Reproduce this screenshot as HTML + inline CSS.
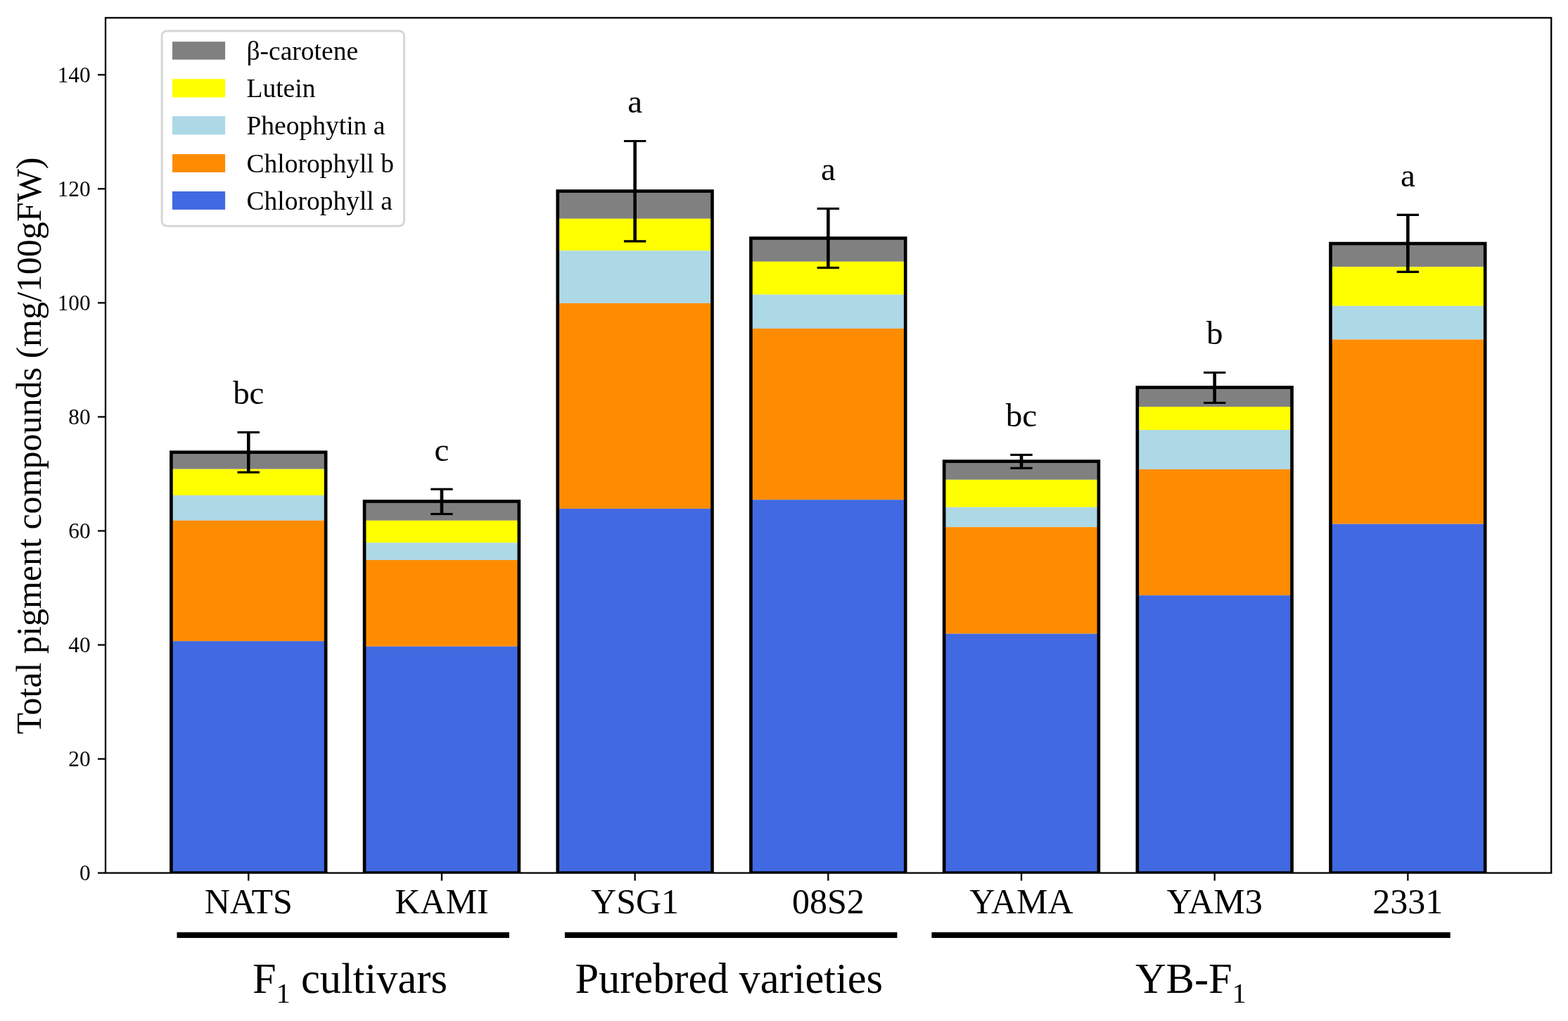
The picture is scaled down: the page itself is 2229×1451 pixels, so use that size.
<!DOCTYPE html>
<html><head><meta charset="utf-8"><title>Total pigment compounds</title>
<style>
html,body{margin:0;padding:0;background:#fff;}
svg{display:block;}
text{font-family:"Liberation Serif","Times New Roman",serif;fill:#000;}
</style></head><body>
<svg width="2229" height="1451" viewBox="0 0 2229 1451">
<rect x="0" y="0" width="2229" height="1451" fill="#fff"/>
<defs><clipPath id="ax"><rect x="150" y="25.3" width="2055.2" height="1215.3"/></clipPath></defs>
<g clip-path="url(#ax)">
<rect x="243.39" y="642.7" width="219.74" height="24" fill="#808080"/>
<rect x="243.39" y="666.7" width="219.74" height="37.2" fill="#ffff00"/>
<rect x="243.39" y="703.9" width="219.74" height="35.8" fill="#add8e6"/>
<rect x="243.39" y="739.7" width="219.74" height="171.45" fill="#ff8c00"/>
<rect x="243.39" y="911.15" width="219.74" height="329.45" fill="#4169e1"/>
<rect x="243.39" y="642.7" width="219.74" height="597.9" fill="none" stroke="#000" stroke-width="4.65"/>
<rect x="518.07" y="712.5" width="219.74" height="27.3" fill="#808080"/>
<rect x="518.07" y="739.8" width="219.74" height="31.6" fill="#ffff00"/>
<rect x="518.07" y="771.4" width="219.74" height="24.5" fill="#add8e6"/>
<rect x="518.07" y="795.9" width="219.74" height="122.85" fill="#ff8c00"/>
<rect x="518.07" y="918.75" width="219.74" height="321.85" fill="#4169e1"/>
<rect x="518.07" y="712.5" width="219.74" height="528.1" fill="none" stroke="#000" stroke-width="4.65"/>
<rect x="792.75" y="271.6" width="219.74" height="39.2" fill="#808080"/>
<rect x="792.75" y="310.8" width="219.74" height="45.5" fill="#ffff00"/>
<rect x="792.75" y="356.3" width="219.74" height="74.6" fill="#add8e6"/>
<rect x="792.75" y="430.9" width="219.74" height="292" fill="#ff8c00"/>
<rect x="792.75" y="722.9" width="219.74" height="517.7" fill="#4169e1"/>
<rect x="792.75" y="271.6" width="219.74" height="969" fill="none" stroke="#000" stroke-width="4.65"/>
<rect x="1067.43" y="338.5" width="219.74" height="33.3" fill="#808080"/>
<rect x="1067.43" y="371.8" width="219.74" height="46.9" fill="#ffff00"/>
<rect x="1067.43" y="418.7" width="219.74" height="48.2" fill="#add8e6"/>
<rect x="1067.43" y="466.9" width="219.74" height="243.4" fill="#ff8c00"/>
<rect x="1067.43" y="710.3" width="219.74" height="530.3" fill="#4169e1"/>
<rect x="1067.43" y="338.5" width="219.74" height="902.1" fill="none" stroke="#000" stroke-width="4.65"/>
<rect x="1342.11" y="655.6" width="219.74" height="26.2" fill="#808080"/>
<rect x="1342.11" y="681.8" width="219.74" height="39" fill="#ffff00"/>
<rect x="1342.11" y="720.8" width="219.74" height="28.3" fill="#add8e6"/>
<rect x="1342.11" y="749.1" width="219.74" height="151.6" fill="#ff8c00"/>
<rect x="1342.11" y="900.7" width="219.74" height="339.9" fill="#4169e1"/>
<rect x="1342.11" y="655.6" width="219.74" height="585" fill="none" stroke="#000" stroke-width="4.65"/>
<rect x="1616.79" y="550.6" width="219.74" height="27.4" fill="#808080"/>
<rect x="1616.79" y="578" width="219.74" height="33.1" fill="#ffff00"/>
<rect x="1616.79" y="611.1" width="219.74" height="55.8" fill="#add8e6"/>
<rect x="1616.79" y="666.9" width="219.74" height="179.25" fill="#ff8c00"/>
<rect x="1616.79" y="846.15" width="219.74" height="394.45" fill="#4169e1"/>
<rect x="1616.79" y="550.6" width="219.74" height="690" fill="none" stroke="#000" stroke-width="4.65"/>
<rect x="1891.47" y="346.1" width="219.74" height="33.2" fill="#808080"/>
<rect x="1891.47" y="379.3" width="219.74" height="55.5" fill="#ffff00"/>
<rect x="1891.47" y="434.8" width="219.74" height="47.7" fill="#add8e6"/>
<rect x="1891.47" y="482.5" width="219.74" height="262.2" fill="#ff8c00"/>
<rect x="1891.47" y="744.7" width="219.74" height="495.9" fill="#4169e1"/>
<rect x="1891.47" y="346.1" width="219.74" height="894.5" fill="none" stroke="#000" stroke-width="4.65"/>
</g>
<line x1="353.26" y1="614.4" x2="353.26" y2="671.2" stroke="#000" stroke-width="4.6"/>
<line x1="337.56" y1="614.4" x2="368.96" y2="614.4" stroke="#000" stroke-width="3.1"/>
<line x1="337.56" y1="671.2" x2="368.96" y2="671.2" stroke="#000" stroke-width="3.1"/>
<line x1="627.94" y1="695.2" x2="627.94" y2="730.5" stroke="#000" stroke-width="4.6"/>
<line x1="612.24" y1="695.2" x2="643.64" y2="695.2" stroke="#000" stroke-width="3.1"/>
<line x1="612.24" y1="730.5" x2="643.64" y2="730.5" stroke="#000" stroke-width="3.1"/>
<line x1="902.62" y1="200.5" x2="902.62" y2="342.9" stroke="#000" stroke-width="4.6"/>
<line x1="886.92" y1="200.5" x2="918.32" y2="200.5" stroke="#000" stroke-width="3.1"/>
<line x1="886.92" y1="342.9" x2="918.32" y2="342.9" stroke="#000" stroke-width="3.1"/>
<line x1="1177.3" y1="296.5" x2="1177.3" y2="380.5" stroke="#000" stroke-width="4.6"/>
<line x1="1161.6" y1="296.5" x2="1193" y2="296.5" stroke="#000" stroke-width="3.1"/>
<line x1="1161.6" y1="380.5" x2="1193" y2="380.5" stroke="#000" stroke-width="3.1"/>
<line x1="1451.98" y1="646.4" x2="1451.98" y2="665.3" stroke="#000" stroke-width="4.6"/>
<line x1="1436.28" y1="646.4" x2="1467.68" y2="646.4" stroke="#000" stroke-width="3.1"/>
<line x1="1436.28" y1="665.3" x2="1467.68" y2="665.3" stroke="#000" stroke-width="3.1"/>
<line x1="1726.66" y1="529.5" x2="1726.66" y2="572.5" stroke="#000" stroke-width="4.6"/>
<line x1="1710.96" y1="529.5" x2="1742.36" y2="529.5" stroke="#000" stroke-width="3.1"/>
<line x1="1710.96" y1="572.5" x2="1742.36" y2="572.5" stroke="#000" stroke-width="3.1"/>
<line x1="2001.34" y1="305.4" x2="2001.34" y2="386.4" stroke="#000" stroke-width="4.6"/>
<line x1="1985.64" y1="305.4" x2="2017.04" y2="305.4" stroke="#000" stroke-width="3.1"/>
<line x1="1985.64" y1="386.4" x2="2017.04" y2="386.4" stroke="#000" stroke-width="3.1"/>
<text x="353.26" y="574" font-size="46.9" text-anchor="middle">bc</text>
<text x="627.94" y="654.8" font-size="46.9" text-anchor="middle">c</text>
<text x="902.62" y="160.1" font-size="46.9" text-anchor="middle">a</text>
<text x="1177.3" y="256.1" font-size="46.9" text-anchor="middle">a</text>
<text x="1451.98" y="606" font-size="46.9" text-anchor="middle">bc</text>
<text x="1726.66" y="489.1" font-size="46.9" text-anchor="middle">b</text>
<text x="2001.34" y="265" font-size="46.9" text-anchor="middle">a</text>
<rect x="150" y="25.3" width="2055.2" height="1215.3" fill="none" stroke="#000" stroke-width="2.3"/>
<line x1="139" y1="1240.6" x2="150" y2="1240.6" stroke="#000" stroke-width="2.3"/>
<text x="128.5" y="1251" font-size="31.25" text-anchor="end">0</text>
<line x1="139" y1="1078.56" x2="150" y2="1078.56" stroke="#000" stroke-width="2.3"/>
<text x="128.5" y="1088.96" font-size="31.25" text-anchor="end">20</text>
<line x1="139" y1="916.52" x2="150" y2="916.52" stroke="#000" stroke-width="2.3"/>
<text x="128.5" y="926.92" font-size="31.25" text-anchor="end">40</text>
<line x1="139" y1="754.48" x2="150" y2="754.48" stroke="#000" stroke-width="2.3"/>
<text x="128.5" y="764.88" font-size="31.25" text-anchor="end">60</text>
<line x1="139" y1="592.44" x2="150" y2="592.44" stroke="#000" stroke-width="2.3"/>
<text x="128.5" y="602.84" font-size="31.25" text-anchor="end">80</text>
<line x1="139" y1="430.4" x2="150" y2="430.4" stroke="#000" stroke-width="2.3"/>
<text x="128.5" y="440.8" font-size="31.25" text-anchor="end">100</text>
<line x1="139" y1="268.36" x2="150" y2="268.36" stroke="#000" stroke-width="2.3"/>
<text x="128.5" y="278.76" font-size="31.25" text-anchor="end">120</text>
<line x1="139" y1="106.32" x2="150" y2="106.32" stroke="#000" stroke-width="2.3"/>
<text x="128.5" y="116.72" font-size="31.25" text-anchor="end">140</text>
<line x1="353.26" y1="1240.6" x2="353.26" y2="1251.6" stroke="#000" stroke-width="2.3"/>
<text x="353.26" y="1298.4" font-size="50" text-anchor="middle">NATS</text>
<line x1="627.94" y1="1240.6" x2="627.94" y2="1251.6" stroke="#000" stroke-width="2.3"/>
<text x="627.94" y="1298.4" font-size="50" text-anchor="middle">KAMI</text>
<line x1="902.62" y1="1240.6" x2="902.62" y2="1251.6" stroke="#000" stroke-width="2.3"/>
<text x="902.62" y="1298.4" font-size="50" text-anchor="middle">YSG1</text>
<line x1="1177.3" y1="1240.6" x2="1177.3" y2="1251.6" stroke="#000" stroke-width="2.3"/>
<text x="1177.3" y="1298.4" font-size="50" text-anchor="middle">08S2</text>
<line x1="1451.98" y1="1240.6" x2="1451.98" y2="1251.6" stroke="#000" stroke-width="2.3"/>
<text x="1451.98" y="1298.4" font-size="50" text-anchor="middle">YAMA</text>
<line x1="1726.66" y1="1240.6" x2="1726.66" y2="1251.6" stroke="#000" stroke-width="2.3"/>
<text x="1726.66" y="1298.4" font-size="50" text-anchor="middle">YAM3</text>
<line x1="2001.34" y1="1240.6" x2="2001.34" y2="1251.6" stroke="#000" stroke-width="2.3"/>
<text x="2001.34" y="1298.4" font-size="50" text-anchor="middle">2331</text>
<text transform="translate(58,633.5) rotate(-90)" x="0" y="0" font-size="50" text-anchor="middle">Total pigment compounds (mg/100gFW)</text>
<rect x="251.5" y="1324.85" width="472.4" height="8.1" fill="#000"/>
<rect x="802.9" y="1324.85" width="472.5" height="8.1" fill="#000"/>
<rect x="1324.4" y="1324.85" width="737.3" height="8.1" fill="#000"/>
<text x="359" y="1411" font-size="60.4">F<tspan font-size="40.5" dy="14.4">1</tspan><tspan dy="-14.4"> cultivars</tspan></text>
<text x="1036.3" y="1411" font-size="60.4" text-anchor="middle">Purebred varieties</text>
<text x="1614" y="1411" font-size="60.4">YB-F<tspan font-size="40.5" dy="14.4">1</tspan></text>
<rect x="230.1" y="44" width="344.4" height="277.2" rx="7" ry="7" fill="#fff" stroke="#d6d6d6" stroke-width="2.9"/>
<rect x="245" y="59.2" width="75.1" height="25.5" fill="#808080"/>
<text x="350.5" y="84.7" font-size="37.5">β-carotene</text>
<rect x="245" y="112.2" width="75.1" height="26.2" fill="#ffff00"/>
<text x="350.5" y="138.4" font-size="37.5">Lutein</text>
<rect x="245" y="165.2" width="75.1" height="26.1" fill="#add8e6"/>
<text x="350.5" y="191.3" font-size="37.5">Pheophytin a</text>
<rect x="245" y="219.1" width="75.1" height="25.8" fill="#ff8c00"/>
<text x="350.5" y="244.9" font-size="37.5">Chlorophyll b</text>
<rect x="245" y="272" width="75.1" height="25.9" fill="#4169e1"/>
<text x="350.5" y="297.9" font-size="37.5">Chlorophyll a</text>
</svg>
</body></html>
